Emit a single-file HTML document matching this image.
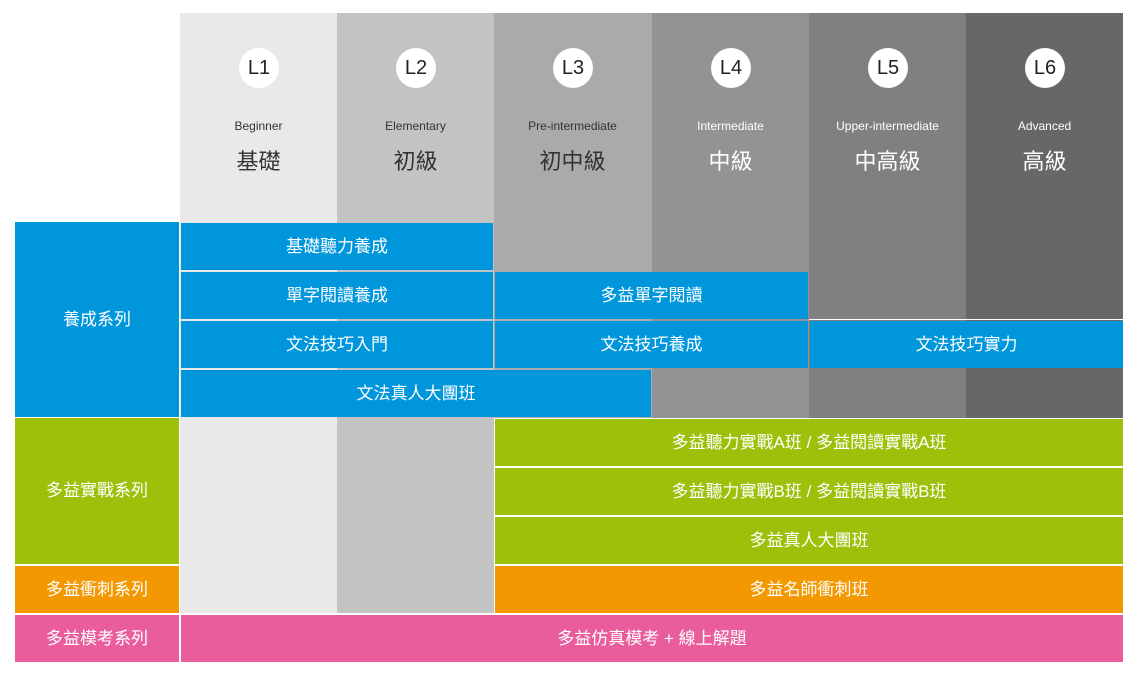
<!DOCTYPE html>
<html><head><meta charset="utf-8"><style>
body{margin:0;width:1135px;height:673px;background:#fff;position:relative;overflow:hidden;font-family:"Liberation Sans","Noto Sans CJK TC",sans-serif}
div{position:absolute;box-sizing:border-box}
.col{top:13px;height:600px}
.b{display:flex;align-items:center;justify-content:center;color:#fff;font-size:17px;padding-bottom:5px}
.bl{background:#0096dc}.gr{background:#9dc00a}.or{background:#f39800}.pk{background:#e95d9d}
.c{width:40px;height:40px;border-radius:50%;background:#fff;top:48px;font-size:20px;color:#222;display:flex;align-items:center;justify-content:center}
.en{top:119px;font-size:12px;text-align:center;width:157px}
.zh{top:144px;font-size:22px;text-align:center;width:157px}
</style></head><body>
<div class="col" style="left:180px;width:157px;background:#e9e9e9"></div>
<div class="col" style="left:337px;width:157px;background:#c3c3c3"></div>
<div class="col" style="left:494px;width:158px;background:#aaaaaa;height:405px"></div>
<div class="col" style="left:652px;width:157px;background:#939393;height:405px"></div>
<div class="col" style="left:809px;width:157px;background:#808080;height:405px"></div>
<div class="col" style="left:966px;width:157px;background:#676767;height:405px"></div>
<div style="left:809px;top:319px;width:314px;height:1px;background:#fff"></div>

<div class="c" style="left:239px">L1</div><div class="c" style="left:396px">L2</div><div class="c" style="left:553px">L3</div><div class="c" style="left:711px">L4</div><div class="c" style="left:868px">L5</div><div class="c" style="left:1025px">L6</div>
<div class="en" style="left:180px;color:#333">Beginner</div><div class="zh" style="left:180px;color:#333">基礎</div>
<div class="en" style="left:337px;color:#333">Elementary</div><div class="zh" style="left:337px;color:#333">初級</div>
<div class="en" style="left:494px;color:#333">Pre-intermediate</div><div class="zh" style="left:494px;color:#333">初中級</div>
<div class="en" style="left:652px;color:#fff">Intermediate</div><div class="zh" style="left:652px;color:#fff">中級</div>
<div class="en" style="left:809px;color:#fff">Upper-intermediate</div><div class="zh" style="left:809px;color:#fff">中高級</div>
<div class="en" style="left:966px;color:#fff">Advanced</div><div class="zh" style="left:966px;color:#fff">高級</div>

<div class="b bl" style="left:15px;top:222px;width:164px;height:195px">養成系列</div>
<div class="b gr" style="left:15px;top:418px;width:164px;height:146px">多益實戰系列</div>
<div class="b or" style="left:15px;top:566px;width:164px;height:47px">多益衝刺系列</div>
<div class="b pk" style="left:15px;top:615px;width:164px;height:47px">多益模考系列</div>

<div class="b bl" style="left:181px;top:223px;width:312px;height:47px">基礎聽力養成</div>
<div class="b bl" style="left:181px;top:272px;width:312px;height:47px">單字閱讀養成</div>
<div class="b bl" style="left:495px;top:272px;width:313px;height:47px">多益單字閱讀</div>
<div class="b bl" style="left:181px;top:321px;width:312px;height:47px">文法技巧入門</div>
<div class="b bl" style="left:495px;top:321px;width:313px;height:47px">文法技巧養成</div>
<div class="b bl" style="left:810px;top:321px;width:313px;height:47px">文法技巧實力</div>
<div class="b bl" style="left:181px;top:370px;width:470px;height:47px">文法真人大團班</div>
<div class="b gr" style="left:495px;top:419px;width:628px;height:47px">多益聽力實戰A班 / 多益閱讀實戰A班</div>
<div class="b gr" style="left:495px;top:468px;width:628px;height:47px">多益聽力實戰B班 / 多益閱讀實戰B班</div>
<div class="b gr" style="left:495px;top:517px;width:628px;height:47px">多益真人大團班</div>
<div class="b or" style="left:495px;top:566px;width:628px;height:47px">多益名師衝刺班</div>
<div class="b pk" style="left:181px;top:615px;width:942px;height:47px">多益仿真模考 + 線上解題</div>
</body></html>
